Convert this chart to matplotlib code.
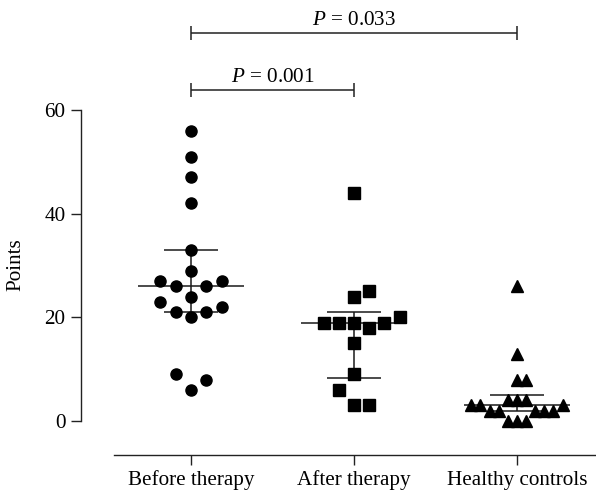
import matplotlib
matplotlib.use('Agg')
import matplotlib.pyplot as plt
import numpy as np

groups = ['Before therapy', 'After therapy', 'Healthy controls']
before = [56, 51, 47, 42, 33, 29, 27, 27, 26, 26, 24, 23, 22, 21, 21, 20, 9, 8, 6]
after = [44, 25, 24, 20, 19, 19, 19, 19, 18, 15, 9, 6, 3, 3]
healthy = [26, 13, 8, 8, 4, 4, 4, 3, 3, 3, 2, 2, 2, 2, 2, 0, 0, 0]
markers = ['o', 's', '^']
pairs = [(0, 1), (0, 2)]
p_values = ['0.001', '0.033']

plt.rcParams['font.family'] = 'Liberation Serif'
plt.rcParams['mathtext.fontset'] = 'custom'
plt.rcParams['mathtext.rm'] = 'Liberation Serif'
plt.rcParams['mathtext.it'] = 'Liberation Serif:italic'

FS = 15.2


def swarm(values, slot_w=0.095, row_h=3.5, max_half=0.28):
    # place points in horizontal slots (0, +1, -1, +2, ...) so that
    # points closer than row_h in value never share a slot
    values = np.asarray(values, dtype=float)
    slots = np.zeros(len(values))
    placed = []
    for i in np.argsort(values, kind='stable'):
        v = values[i]
        k = 0
        while True:
            s = (k + 1) // 2 if k % 2 else -(k // 2)
            if all(not (ps == s and abs(pv - v) < row_h) for ps, pv in placed):
                break
            k += 1
        slots[i] = s
        placed.append((s, v))
    offs = slots * slot_w
    widest = np.abs(offs).max()
    if widest > max_half:
        offs *= max_half / widest
    return offs


fig = plt.figure(figsize=(5.96, 4.96), dpi=100)
ax = fig.add_axes([81 / 596, 41 / 496, 515 / 596, 455 / 496])
ax.set_xlim(-0.675, 2.485)
ax.set_ylim(-6.56, 81.23)

for i, (vals, m) in enumerate(zip([before, after, healthy], markers)):
    q1, med, q3 = np.percentile(vals, [25, 50, 75], method='weibull')
    ax.hlines(med, i - 0.325, i + 0.325, color='#1a1a1a', lw=1.1, zorder=2)
    ax.hlines([q1, q3], i - 0.165, i + 0.165, color='#1a1a1a', lw=1.1, zorder=2)
    ax.vlines(i, q1, q3, color='#1a1a1a', lw=1.1, zorder=2)
    ax.plot(i + swarm(vals), vals, linestyle='none', marker=m, ms=8,
            color='black', zorder=3, clip_on=False)

# significance brackets
for (a, b), p, level in zip(pairs, p_values, [63.9, 74.9]):
    ax.hlines(level, a, b, color='#222222', lw=1.1, clip_on=False)
    ax.vlines([a, b], level - 1.4, level + 1.4, color='#222222', lw=1.1,
              clip_on=False)
    ax.text((a + b) / 2, level + 1.6, rf'$P$ = {p}', ha='center',
            va='baseline', fontsize=FS)

for side in ['top', 'right']:
    ax.spines[side].set_visible(False)
ax.spines['left'].set_bounds(0, 60)
ax.spines['bottom'].set_bounds(-0.472, 2.485)
for side in ['left', 'bottom']:
    ax.spines[side].set_linewidth(1.0)
    ax.spines[side].set_color('#222222')

ax.set_yticks([0, 20, 40, 60])
ax.set_xticks(range(len(groups)))
ax.set_xticklabels(groups)
ax.tick_params(length=7.2, width=1.0, labelsize=FS, pad=4, color='#222222')
ax.set_ylabel('Points', fontsize=FS)
ax.yaxis.set_label_coords(-0.108, 0.4176)

fig.savefig('out.png', dpi=100)
